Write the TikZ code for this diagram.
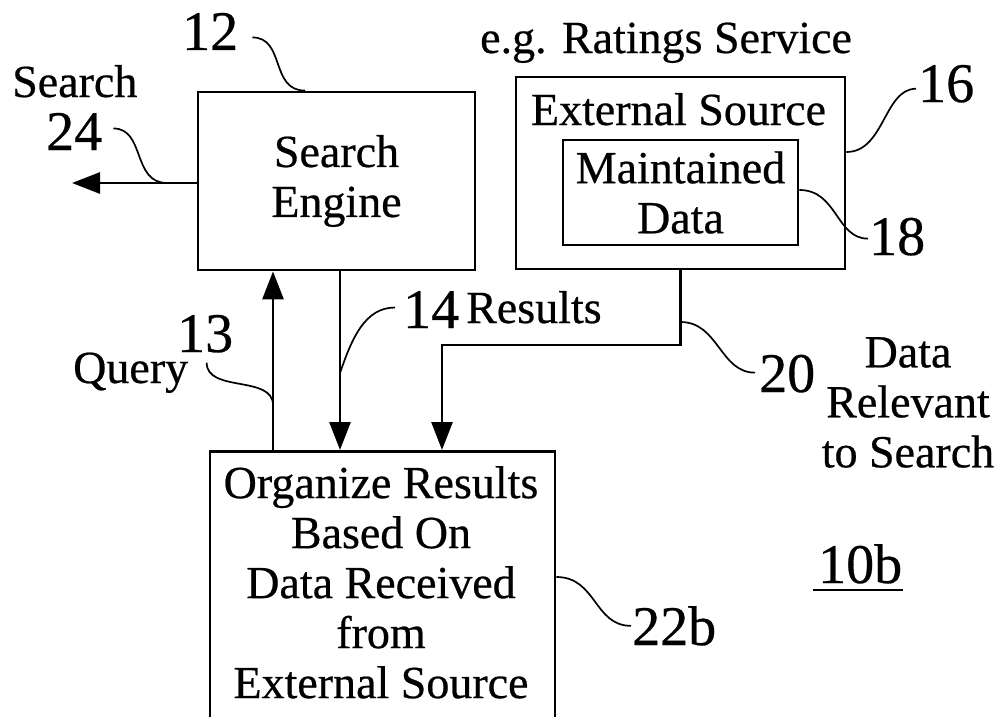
\documentclass[tikz,border=0pt]{standalone}
\usepackage{fontspec}
\setmainfont{Liberation Serif}[FakeBold=0.5]
\usetikzlibrary{arrows.meta,calc}
\newcommand\txtf{\fontsize{46}{50}\selectfont}
\newcommand\numf{\fontsize{56}{60}\selectfont}
\begin{document}
\begin{tikzpicture}[x=1pt,y=-1pt,
  box/.style={draw,line width=2.8pt,inner sep=0pt},
  txt/.style={font=\txtf,inner sep=0pt},
  num/.style={font=\numf,inner sep=0pt},
  arr/.style={line width=2.8pt,-{Triangle[length=28pt,width=21pt]}},
  lead/.style={line width=1.7pt}]
\useasboundingbox (0,0) rectangle (1001,717);
\clip (0,0) rectangle (1001,717);
% boxes
\node[box,txt,align=center,minimum width=277pt,minimum height=178pt] (se) at (336.5,181) {Search\\Engine};
\node[box,minimum width=329pt,minimum height=192pt] (ext) at (680.5,173) {};
\node[txt,anchor=base] (exttxt) at (678.5,125) {External Source};
\node[box,txt,align=center,minimum width=235pt,minimum height=105pt] (md) at (680.5,192.5) {Maintained\\Data};
\node[box,minimum width=345pt,minimum height=330pt,anchor=north] (org) at (382.5,450) {};
\node[txt,align=center,anchor=north] (orgtxt) at (381,466) {Organize Results\\Based On\\Data Received\\from\\External Source};
% text labels
\node[txt,anchor=base west] (lsearch) at (12,97) {Search};
\node[txt,anchor=base west] (leg) at (480,53) {e.g. Ratings Service};
\node[txt,anchor=base west] (lres) at (466,323) {Results};
\node[txt,anchor=base west] (lquery) at (73,383) {Query};
\node[txt,align=center,anchor=north] (ldrs) at (908,337) {Data\\Relevant\\to Search};
% numerals
\node[num,anchor=base west] (n24) at (46,150) {24};
\node[num,anchor=base west] (n12) at (182,50) {12};
\node[num,anchor=base west] (n16) at (918,102) {16};
\node[num,anchor=base west] (n18) at (869,255) {18};
\node[num,anchor=base west] (n14) at (403,328) {14};
\node[num,anchor=base west] (n13) at (177,352) {13};
\node[num,anchor=base west] (n20) at (759,392) {20};
\node[num,anchor=base west] (n22b) at (632,645) {22b};
\node[num,anchor=base west] (n10b) at (818,583) {10b};
\draw[line width=2.6pt] ($(n10b.base west)+(-5,7)$) -- ($(n10b.base east)+(1,7)$);
% connectors
\coordinate (tip24) at (72,183);
\coordinate (qx) at (273,0);
\coordinate (rx) at (340,0);
\coordinate (dx) at (442,345);
\draw[arr] (se.west |- tip24) -- (tip24);
\draw[arr] (qx |- org.north) -- (qx |- se.south);
\draw[arr] (rx |- se.south) -- (rx |- org.north);
\draw[arr] (ext.south) |- (dx) -- (dx |- org.north);
% leaders
\draw[lead] ($(n12.east)+(14,6)$) .. controls +(33,0) and +(-35,0) .. (se.north -| 305,0);
\draw[lead] ($(n24.east)+(11,-3)$) .. controls +(32,0) and +(-35,0) .. ($(tip24)+(95,0)$);
\draw[lead] (ext.east |- 0,152) .. controls +(38,0) and +(-32,0) .. ($(n16.west)+(-2,5)$);
\draw[lead] (md.east |- 0,190) .. controls +(38,0) and +(-32,0) .. ($(n18.west)+(-1,2)$);
\draw[lead] (ext.south |- 0,322) .. controls +(38,0) and +(-35,0) .. ($(n20.west)+(-4,-1)$);
\draw[lead] ($(n14.west)+(-8,-2)$) .. controls +(-30,0) and +(12,-35) .. (rx |- 0,373);
\draw[lead] ($(n13.south)+(1.5,10)$) .. controls +(0,30) and +(0,-30) .. (qx |- 0,405);
\draw[lead] (org.east |- 0,577) .. controls +(40,0) and +(-37,0) .. ($(n22b.west)+(-1,0)$);
\end{tikzpicture}
\end{document}
